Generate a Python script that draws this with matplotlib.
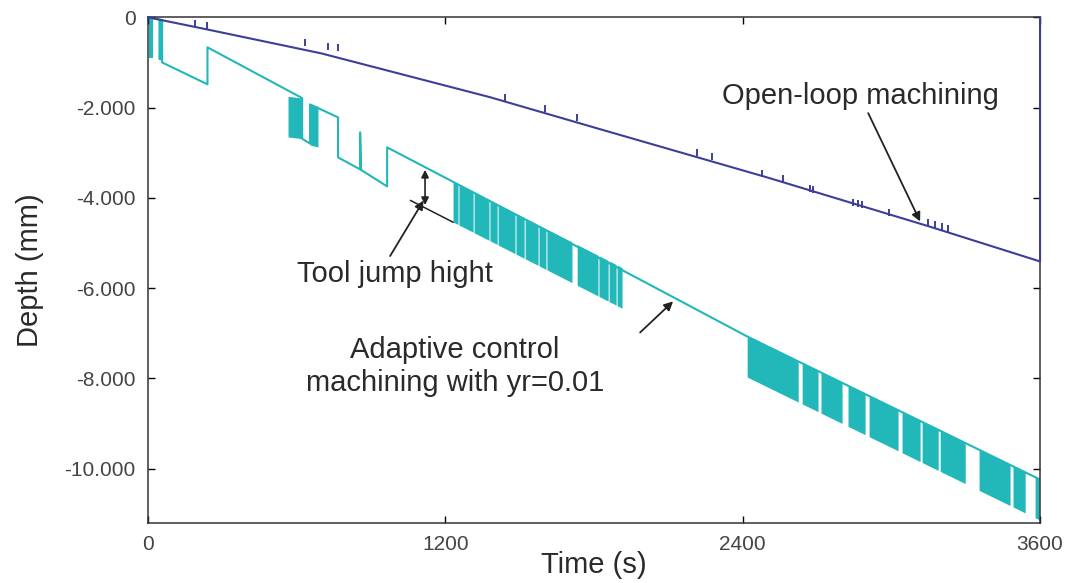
import numpy as np
import matplotlib
matplotlib.use("Agg")
import matplotlib.pyplot as plt

plt.rcParams['font.family'] = ['Liberation Sans', 'DejaVu Sans']

# open-loop machining: depth line, then tool lifted back to 0 at the end
open_t = [0, 240, 700, 1380, 1825, 2500, 3150, 3600, 3600]
open_d = [0, -270, -800, -1770, -2480, -3550, -4630, -5410, 0]

# small upward spikes on the open-loop line (time, base depth)
spike_t = [190, 238, 634, 727, 767, 1441, 1602, 1732, 2216, 2276, 2478, 2563,
           2672, 2684, 2846, 2866, 2882, 2991, 3148, 3177, 3205, 3229]
spike_d = [-222, -266, -643, -732, -754, -1862, -2106, -2306, -3082, -3170, -3547, -3658,
           -3880, -3890, -4190, -4210, -4230, -4412, -4634, -4678, -4722, -4767]
spike_h = 160

# adaptive control machining: main path (top level with single tool jumps)
adapt_t = [0, 57, 57, 240, 240, 622, 622, 654, 654, 767, 767, 856, 856, 860,
           965, 965, 1913, 2418, 3600]
adapt_d = [0, -60, -1000, -1485, -665, -1790, -2690, -2800, -1930, -2217, -3104, -3370,
           -2550, -3382, -3747, -2882, -5600, -7072, -10243]

# chatter bands (rapid tool jumps): start, end, top depth at start, top depth at end
band_t0 = [4, 40, 565, 654,
           1231, 1255, 1316, 1380, 1413, 1485, 1522, 1578, 1610, 1732, 1820, 1861, 1893,
           2418, 2640, 2716, 2825, 2910, 3043, 3124, 3197, 3354, 3491, 3580]
band_t1 = [20, 57, 622, 686,
           1251, 1312, 1376, 1409, 1481, 1518, 1574, 1606, 1711, 1816, 1857, 1889, 1913,
           2624, 2704, 2801, 2894, 3027, 3116, 3189, 3298, 3479, 3540, 3596]
band_top0 = [0, -30, -1751, -1930,
             -3636, -3703, -3874, -4053, -4146, -4347, -4451, -4608, -4697, -5039, -5285, -5400, -5490,
             -7072, -7668, -7872, -8164, -8392, -8749, -8966, -9162, -9583, -9951, -10190]
band_top1 = [0, -50, -1790, -1973,
             -3692, -3863, -4042, -4134, -4336, -4440, -4596, -4686, -4980, -5274, -5389, -5478, -5546,
             -7625, -7839, -8100, -8349, -8706, -8945, -9141, -9433, -9919, -10082, -10233]
jump_h = 900

x_ticks = [0, 1200, 2400, 3600]
y_ticks = [0, -2000, -4000, -6000, -8000, -10000]
y_labels = ['0', '-2.000', '-4.000', '-6.000', '-8.000', '-10.000']

cyan = '#22b7b9'
blue = '#3b3f98'
txt = '#2a2a2a'

fig = plt.figure(figsize=(10.71, 5.83), dpi=100)
ax = fig.add_axes([0.1382, 0.1034, 0.8329, 0.8669])

# adaptive control trace
for t0, t1, a, b in zip(band_t0, band_t1, band_top0, band_top1):
    ax.fill_between([t0, t1], [a, b], [a - jump_h, b - jump_h], color=cyan, lw=0)
ax.plot(adapt_t, adapt_d, color=cyan, lw=1.5)

# open-loop trace (drawn over the right spine like the original)
ax.plot(open_t, open_d, color=blue, lw=1.5, clip_on=False, zorder=3)
ax.vlines(spike_t, spike_d, np.array(spike_d) + spike_h, color=blue, lw=1.4)

ax.set_xlim(0, 3600)
ax.set_ylim(-11200, 0)
ax.set_xticks(x_ticks)
ax.set_xticklabels([str(v) for v in x_ticks])
ax.set_yticks(y_ticks)
ax.set_yticklabels(y_labels)
ax.tick_params(direction='in', top=True, right=True, length=5, width=1,
               labelsize=15, labelcolor='#444444', pad=9)
for s in ax.spines.values():
    s.set_color('#333333')
    s.set_linewidth(1.1)

arrow = dict(arrowstyle='-|>', color='#222222', lw=1.3, shrinkA=0, shrinkB=0, mutation_scale=13)

ax.annotate('Open-loop machining', xy=(3116, -4523), xytext=(2874, -1751),
            ha='center', va='center', fontsize=21, color=txt, arrowprops=arrow)

# label text; arrow starts just above the text
ax.text(997, -5698, 'Tool jump hight', ha='center', va='center', fontsize=21, color=txt)
ax.annotate('', xy=(1112, -4060), xytext=(977, -5290), arrowprops=arrow)
ax.annotate('', xy=(1118, -3380), xytext=(1118, -4160),
            arrowprops=dict(arrowstyle='<|-|>', color='#222222', lw=1.2,
                            shrinkA=0, shrinkB=0, mutation_scale=11))
ax.plot([1060, 1231], [-4060, -4540], color='#222222', lw=1.1)

ax.text(1239, -7737, 'Adaptive control\nmachining with yr=0.01', ha='center', va='center',
        fontsize=21, color=txt, linespacing=1.2)
ax.annotate('', xy=(2119, -6296), xytext=(1986, -6984), arrowprops=arrow)

fig.text(0.028, 0.537, 'Depth (mm)', rotation=90, ha='center', va='center',
         fontsize=21, color=txt)
fig.text(0.554, 0.031, 'Time (s)', ha='center', va='center', fontsize=21, color=txt)

fig.savefig('out.png', dpi=100)
